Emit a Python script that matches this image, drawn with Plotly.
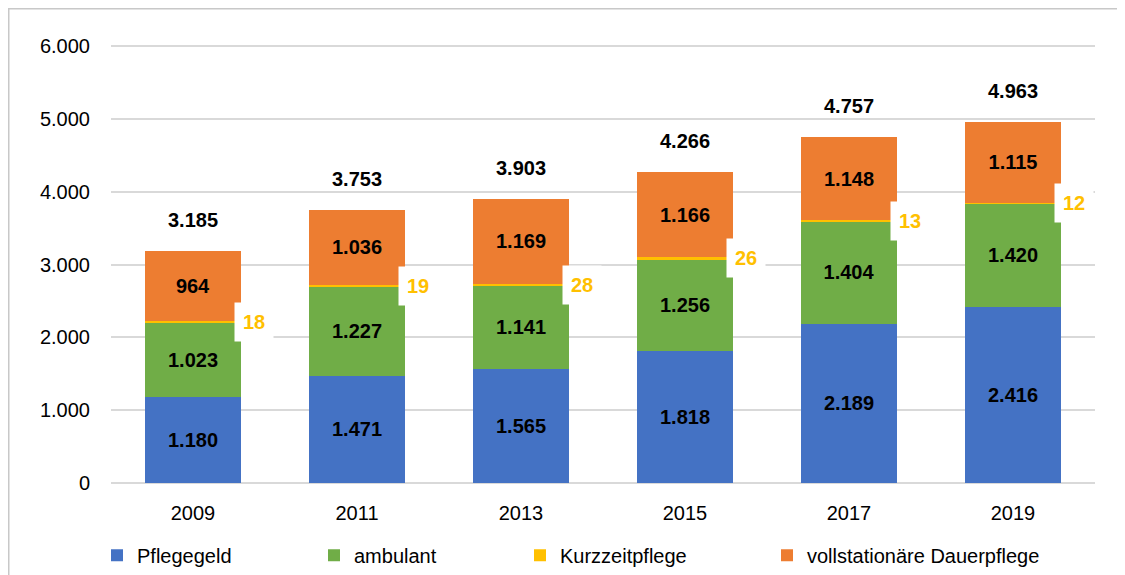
import plotly.graph_objects as go

jahre = ["2009", "2011", "2013", "2015", "2017", "2019"]
pflegegeld = [1180, 1471, 1565, 1818, 2189, 2416]
ambulant = [1023, 1227, 1141, 1256, 1404, 1420]
kurzzeit = [18, 19, 28, 26, 13, 12]
dauerpflege = [964, 1036, 1169, 1166, 1148, 1115]
gesamt = [3185, 3753, 3903, 4266, 4757, 4963]

FONT = "Liberation Sans, Arial, sans-serif"
BLAU = "#4472C4"
GRUEN = "#70AD47"
GELB = "#FFC000"
ORANGE = "#ED7D31"

fig = go.Figure()

def balken(name, werte, farbe, legende, mit_text=True):
    fig.add_trace(go.Bar(
        x=jahre, y=werte, name=name, marker_color=farbe,
        marker_line_width=0,
        texttemplate="%{y:,}" if mit_text else None,
        textposition="inside" if mit_text else "none",
        insidetextanchor="middle",
        textfont=dict(family=FONT, size=20, color="black", weight="bold"),
        legend=legende, showlegend=True,
    ))

balken("Pflegegeld", pflegegeld, BLAU, "legend")
balken("ambulant", ambulant, GRUEN, "legend2")
balken("Kurzzeitpflege", kurzzeit, GELB, "legend3", mit_text=False)
balken("vollstationäre Dauerpflege", dauerpflege, ORANGE, "legend4")

# Kurzzeitpflege-Werte rechts neben dem Balken, weiß hinterlegt
# (auf der Kategorienachse über den Index positioniert)
for i, (p, a, k) in enumerate(zip(pflegegeld, ambulant, kurzzeit)):
    fig.add_annotation(
        x=i, y=p + a + k / 2, text=f"<b>{k}</b>", showarrow=False,
        xshift=61, bgcolor="white", borderpad=8,
        font=dict(family=FONT, size=20, color=GELB),
    )

# Summen über den Balken
for i, s in enumerate(gesamt):
    fig.add_annotation(
        x=i, y=s, text=f"<b>{s:,}</b>".replace(",", "."), showarrow=False,
        yshift=31, font=dict(family=FONT, size=20, color="black"),
    )

# Seite hat 8px Rand -> Figur entsprechend kleiner und verschoben
W, H = 1117, 567
plot_l, plot_w, plot_t, plot_h = 103, 984, 37, 438
def lx(px):
    return (px - plot_l) / plot_w
def ly(py):
    return 1 - (py - plot_t) / plot_h

leg = dict(orientation="h", yanchor="middle", y=-0.165, xanchor="left",
           font=dict(family=FONT, size=20, color="black"),
           bgcolor="rgba(0,0,0,0)")

fig.update_layout(
    width=W, height=H,
    margin=dict(l=plot_l, r=W - plot_l - plot_w, t=plot_t,
                b=H - plot_t - plot_h, autoexpand=False),
    barmode="stack", bargap=0.41,
    separators=",.",
    showlegend=True,
    plot_bgcolor="white", paper_bgcolor="white",
    font=dict(family=FONT, size=20, color="black"),
    legend=dict(leg, x=lx(89)),
    legend2=dict(leg, x=lx(306)),
    legend3=dict(leg, x=lx(512)),
    legend4=dict(leg, x=lx(759)),
    xaxis=dict(type="category", range=[-0.5, 5.5], showgrid=False,
               showline=False, ticks="",
               tickfont=dict(family=FONT, size=20), ticklabelstandoff=16),
    yaxis=dict(range=[0, 6015], dtick=1000, tickformat=",",
               gridcolor="#D9D9D9", gridwidth=2, zeroline=True,
               zerolinecolor="#D9D9D9", zerolinewidth=2,
               showline=False, ticks="", ticklabelstandoff=20,
               tickfont=dict(family=FONT, size=20)),
    shapes=[
        dict(type="line", xref="paper", yref="paper",
             x0=lx(0), x1=lx(W + 5), y0=ly(0.5), y1=ly(0.5),
             line=dict(color="#C8C8C8", width=2)),
        dict(type="line", xref="paper", yref="paper",
             x0=lx(0.5), x1=lx(0.5), y0=ly(0), y1=ly(H + 5),
             line=dict(color="#C8C8C8", width=2)),
    ],
)

fig.write_html("out.html")
